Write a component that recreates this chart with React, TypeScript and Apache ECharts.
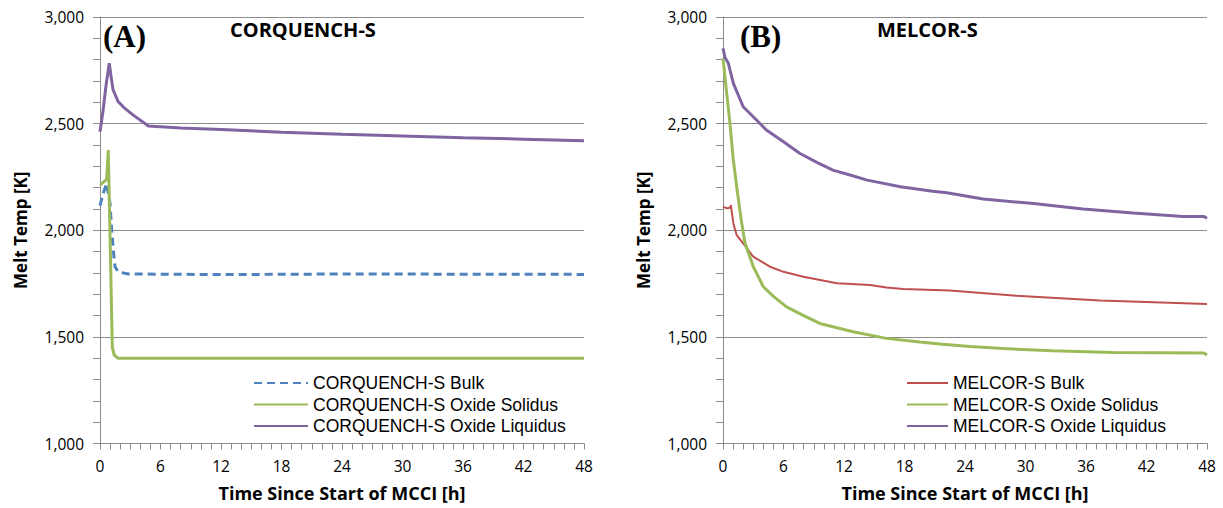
import React, { useEffect, useRef } from "react";
import * as echarts from "echarts";

// ---- Panel A: CORQUENCH-S ----
const aBulkT = [0, 0.3, 0.66, 0.99, 1.16, 1.32, 1.49, 1.8, 2.8, 12, 24, 36, 48];
const aBulkV = [2115, 2170, 2220, 2127, 2001, 1907, 1829, 1805, 1795, 1792, 1795, 1794, 1793];
const aSolT = [0, 0.66, 0.82, 1.22, 1.4, 1.8, 48];
const aSolV = [2212, 2239, 2376, 1453, 1415, 1400, 1400];
const aLiqT = [0, 0.3, 0.6, 0.92, 1.1, 1.3, 1.8, 2.5, 3.3, 4.8, 8, 12, 18, 24, 30, 36, 42, 48];
const aLiqV = [2462, 2560, 2680, 2783, 2720, 2658, 2603, 2570, 2540, 2489, 2480, 2472, 2460, 2450, 2442, 2434, 2427, 2420];

// ---- Panel B: MELCOR-S ----
const bBulkT = [0, 0.37, 0.7, 0.78, 1.03, 1.36, 2.0, 3.0, 4.66, 6, 7.97, 11.3, 14.6, 16.2, 17.9, 22.5, 29.1, 37.4, 48];
const bBulkV = [2111, 2103, 2105, 2118, 2032, 1977, 1938, 1876, 1829, 1805, 1782, 1751, 1743, 1732, 1724, 1718, 1693, 1671, 1654];
const bSolT = [0, 0.35, 0.69, 1.0, 1.36, 1.8, 2.18, 3.0, 4.0, 5.0, 6.3, 8, 9.6, 12.9, 16.2, 19.5, 21.5, 24.5, 27.8, 32.7, 38.7, 47.7, 48];
const bSolV = [2806, 2650, 2501, 2340, 2204, 2050, 1940, 1830, 1735, 1690, 1641, 1600, 1563, 1524, 1493, 1476, 1467, 1455, 1445, 1435, 1427, 1424, 1415];
const bLiqT = [0, 0.2, 0.53, 1.03, 2.0, 3.0, 4.3, 6.0, 7.6, 9.3, 10.9, 12.6, 14.3, 17.6, 20.8, 22.2, 25.8, 30.8, 35.7, 40.7, 45.6, 47.7, 48];
const bLiqV = [2853, 2810, 2783, 2689, 2579, 2532, 2470, 2415, 2361, 2318, 2282, 2259, 2235, 2204, 2183, 2176, 2147, 2125, 2100, 2081, 2065, 2064, 2056];

const xTicks = [0, 6, 12, 18, 24, 30, 36, 42, 48];
const yTicks = [1000, 1500, 2000, 2500, 3000];

const namesA = ["CORQUENCH-S Bulk", "CORQUENCH-S Oxide Solidus", "CORQUENCH-S Oxide Liquidus"];
const namesB = ["MELCOR-S Bulk", "MELCOR-S Oxide Solidus", "MELCOR-S Oxide Liquidus"];

const zip = (t: number[], v: number[]) => t.map((x, i) => [x, v[i]]);

const FONT = "'Open Sans', sans-serif";
const LEGEND_FONT = "'Liberation Sans', Arial, sans-serif";
const GRID = "#8c8c8c";

function xAxis(gi: number) {
  return {
    type: "value",
    gridIndex: gi,
    min: xTicks[0],
    max: xTicks[xTicks.length - 1],
    interval: 6,
    name: "Time Since Start of MCCI [h]",
    nameLocation: "middle",
    nameGap: 40,
    nameTextStyle: { fontFamily: FONT, fontSize: 18, fontWeight: "bold", color: "#000" },
    axisLine: { lineStyle: { color: GRID, width: 1 } },
    axisTick: { show: true, length: 6, lineStyle: { color: GRID } },
    minorTick: { show: true, splitNumber: 6, length: 6, lineStyle: { color: GRID } },
    splitLine: { show: false },
    axisLabel: { fontFamily: FONT, fontSize: 15.5, color: "#000", margin: 14 },
  };
}

function yAxis(gi: number) {
  return {
    type: "value",
    gridIndex: gi,
    min: yTicks[0],
    max: yTicks[yTicks.length - 1],
    interval: 500,
    name: "Melt Temp [K]",
    nameLocation: "middle",
    nameGap: 71,
    nameTextStyle: { fontFamily: FONT, fontSize: 17, fontWeight: "bold", color: "#000" },
    axisLine: { show: true, lineStyle: { color: GRID, width: 1 } },
    axisTick: { show: true, length: 7, lineStyle: { color: GRID } },
    minorTick: { show: true, splitNumber: 5, length: 7, lineStyle: { color: GRID } },
    splitLine: { show: true, lineStyle: { color: GRID, width: 1 } },
    axisLabel: {
      fontFamily: FONT,
      fontSize: 15.5,
      color: "#000",
      margin: 16,
      formatter: (v: number) => v.toLocaleString("en-US"),
    },
  };
}

function line(name: string, gi: number, data: number[][], color: string, width: number, dashed = false) {
  return {
    type: "line",
    name,
    xAxisIndex: gi,
    yAxisIndex: gi,
    data,
    symbol: "none",
    lineStyle: { color, width, type: dashed ? [8, 5] : "solid", cap: "butt" },
    itemStyle: { color },
  };
}

const legendBase = {
  orient: "vertical",
  top: 368,
  itemHeight: 14,
  itemGap: 1.5,
  itemStyle: { opacity: 0, borderWidth: 0 },
  textStyle: { fontFamily: LEGEND_FONT, fontSize: 17.5, lineHeight: 20, color: "#000", padding: [0, 0, 0, 0] },
};

export default function App() {
  const ref = useRef<HTMLDivElement>(null);
  useEffect(() => {
    document.body.style.margin = "0";
    const chart = echarts.init(ref.current!, null, { renderer: "svg" });
    chart.setOption({
      animation: false,
      backgroundColor: "#fff",
      grid: [
        { left: 100, top: 17, width: 484, height: 426.5 },
        { left: 723, top: 17, width: 484, height: 426.5 },
      ],
      xAxis: [xAxis(0), xAxis(1)],
      yAxis: [yAxis(0), yAxis(1)],
      legend: [
        { ...legendBase, data: namesA, left: 248, itemWidth: 54 },
        { ...legendBase, data: namesB, left: 901, itemWidth: 41 },
      ],
      graphic: [
        { type: "text", left: 103, top: 21, style: { text: "(A)", font: "bold 31px 'Liberation Serif', serif", fill: "#000" } },
        { type: "text", left: 230, top: 19, style: { text: "CORQUENCH-S", font: `bold 20px ${FONT}`, fill: "#000" } },
        { type: "text", left: 740, top: 21, style: { text: "(B)", font: "bold 31px 'Liberation Serif', serif", fill: "#000" } },
        { type: "text", left: 877, top: 19, style: { text: "MELCOR-S", font: `bold 20px ${FONT}`, fill: "#000" } },
      ],
      series: [
        line(namesA[0], 0, zip(aBulkT, aBulkV), "#4f81bd", 3, true),
        line(namesA[1], 0, zip(aSolT, aSolV), "#9bbb59", 3),
        line(namesA[2], 0, zip(aLiqT, aLiqV), "#8064a2", 3),
        line(namesB[0], 1, zip(bBulkT, bBulkV), "#c0504d", 2),
        line(namesB[1], 1, zip(bSolT, bSolV), "#9bbb59", 3),
        line(namesB[2], 1, zip(bLiqT, bLiqV), "#8064a2", 3),
      ],
    });
    return () => chart.dispose();
  }, []);
  return <div ref={ref} style={{ width: 1223, height: 508 }} />;
}
